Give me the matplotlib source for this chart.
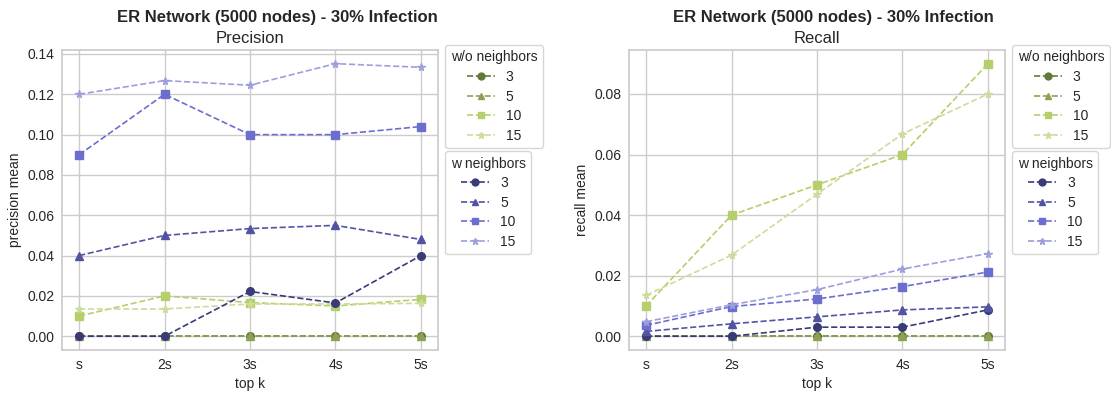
import matplotlib
matplotlib.use("Agg")
import matplotlib.pyplot as plt
import seaborn as sns

sns.set_theme(style="whitegrid")
plt.rcParams['font.family'] = ['Liberation Sans', 'DejaVu Sans']

top_k = ["s", "2s", "3s", "4s", "5s"]
sizes = [3, 5, 10, 15]
markers = ["o", "^", "s", "*"]

# tab20b shades: greens for w/o neighbors, blues for w neighbors
wo_colors = ["#637939", "#8ca252", "#b5cf6b", "#cedb9c"]
w_colors = ["#393b79", "#5254a3", "#6b6ecf", "#9c9ede"]

prec_wo = [
    [0, 0, 0, 0, 0],
    [0, 0, 0, 0, 0],
    [0.010, 0.020, 0.0167, 0.015, 0.0183],
    [0.0135, 0.0135, 0.016, 0.016, 0.0163],
]
prec_w = [
    [0, 0, 0.0222, 0.0165, 0.040],
    [0.040, 0.050, 0.0534, 0.055, 0.048],
    [0.090, 0.120, 0.100, 0.100, 0.104],
    [0.120, 0.1268, 0.1245, 0.1352, 0.1334],
]
rec_wo = [
    [0, 0, 0, 0, 0],
    [0, 0, 0, 0, 0],
    [0.010, 0.040, 0.050, 0.060, 0.090],
    [0.0135, 0.0268, 0.0469, 0.0668, 0.080],
]
rec_w = [
    [0, 0, 0.003, 0.003, 0.0087],
    [0.0016, 0.0041, 0.0064, 0.0087, 0.0097],
    [0.0036, 0.0098, 0.0123, 0.0164, 0.0212],
    [0.0048, 0.0104, 0.0154, 0.0222, 0.0273],
]

fig, axes = plt.subplots(1, 2, figsize=(11.11, 3.94), dpi=100)
fig.subplots_adjust(left=0.0558, right=0.9046, bottom=0.112, top=0.873, wspace=0.508)


def draw(ax, wo, w, name, ylabel, xcenter):
    wo_lines, w_lines = [], []
    for i in range(4):
        l, = ax.plot(top_k, wo[i], linestyle="--", marker=markers[i], color=wo_colors[i],
                     markersize=5.5, linewidth=1.2, label=str(sizes[i]))
        wo_lines.append(l)
    for i in range(4):
        l, = ax.plot(top_k, w[i], linestyle="--", marker=markers[i], color=w_colors[i],
                     markersize=5.5, linewidth=1.2, label=str(sizes[i]))
        w_lines.append(l)
    ax.set_xlabel("top k", fontsize=10)
    ax.set_ylabel(ylabel, fontsize=10)
    ax.tick_params(labelsize=10, length=0, pad=5.5)
    ax.set_title(name, fontsize=12, pad=5)
    # each half of the figure gets its own bold heading
    fig.text(xcenter, 0.944, "ER Network (5000 nodes) - 30% Infection",
             ha="center", va="baseline", fontsize=12, fontweight="bold")
    leg_kw = dict(loc="upper left", fontsize=10, title_fontsize=10, borderaxespad=0,
                  handlelength=2.0, handletextpad=0.8, labelspacing=0.4, markerscale=0.9)
    leg1 = ax.legend(handles=wo_lines, title="w/o neighbors",
                     bbox_to_anchor=(1.019, 1.017), **leg_kw)
    ax.add_artist(leg1)
    ax.legend(handles=w_lines, title="w neighbors",
              bbox_to_anchor=(1.019, 0.663), **leg_kw)


draw(axes[0], prec_wo, prec_w, "Precision", "precision mean", 0.25)
draw(axes[1], rec_wo, rec_w, "Recall", "recall mean", 0.75)

fig.savefig("out.png", dpi=100)
